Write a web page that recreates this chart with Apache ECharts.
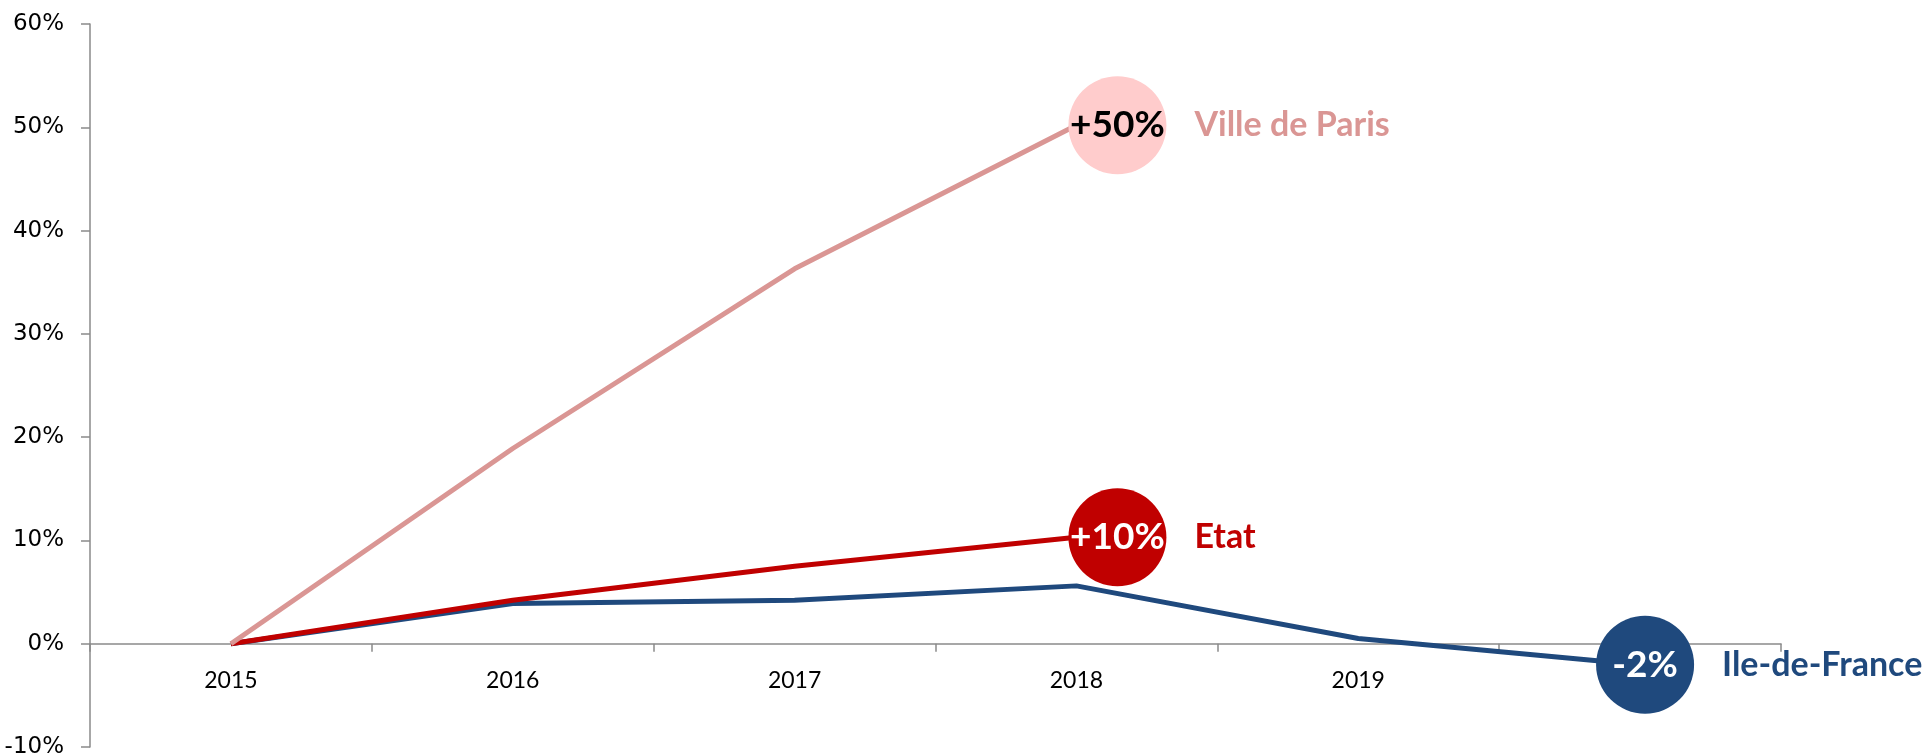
<!DOCTYPE html>
<html>
<head>
<meta charset="utf-8">
<script src="https://cdn.jsdelivr.net/npm/echarts@6/dist/echarts.min.js"></script>
<style>
  html, body { margin: 0; padding: 0; background: #fff; }
  #main { width: 1926px; height: 756px; }
</style>
</head>
<body>
<div id="main"></div>
<script>
// données (évolution depuis 2015, en %)
var years = ['2015', '2016', '2017', '2018', '2019', '2020'];
var idf = [0, 3.9, 4.2, 5.6, 0.5, -2.03];
var etat = [0, 4.2, 7.5, 10.3];
var paris = [0, 18.9, 36.3, 50.2];
var yTicks = [-10, 0, 10, 20, 30, 40, 50, 60];

var myChart = echarts.init(document.getElementById('main'));

function fmtPct(v) {
    var r = Math.round(v);
    return (r > 0 ? '+' : '') + r + '%';
}

// cercle + nom de la série, comme les étiquettes Excel
function marks(name, data, circleColor, textColor, nameColor, dx) {
    var last = data.length - 1;
    var v = data[last];
    return {
        symbol: 'circle',
        symbolSize: 98,
        animation: false,
        data: [
            {
                coord: [last, v],
                symbolOffset: [dx, 0],
                itemStyle: { color: circleColor },
                label: {
                    show: true, position: 'inside', formatter: fmtPct(v),
                    color: textColor, fontFamily: 'Lato', fontWeight: 'bold', fontSize: 37
                }
            },
            {
                coord: [last, v],
                symbolOffset: [dx, 0],
                itemStyle: { color: 'rgba(0,0,0,0)' },
                label: {
                    show: true, position: 'right', distance: 28, formatter: name,
                    color: nameColor, fontFamily: 'Lato', fontWeight: 'bold', fontSize: 34
                }
            }
        ]
    };
}

var axisGray = '#8a8a8a';

var option = {
    animation: false,
    grid: { left: 90, right: 145, top: 24, bottom: 9, outerBoundsMode: 'none', containLabel: false },
    xAxis: {
        type: 'category',
        data: years,
        boundaryGap: true,
        axisLine: { onZero: true, lineStyle: { color: axisGray, width: 1.5 } },
        axisTick: { show: true, length: 8, lineStyle: { color: axisGray, width: 1.5 } },
        // les libellés restent en bas de la grille : on les remonte sous l'axe 0
        axisLabel: { color: '#000', fontFamily: 'Lato', fontSize: 23, margin: -78 },
        splitLine: { show: false }
    },
    yAxis: {
        type: 'value',
        min: yTicks[0],
        max: yTicks[yTicks.length - 1],
        interval: 10,
        axisLine: { show: true, lineStyle: { color: axisGray, width: 1.5 } },
        axisTick: { show: true, length: 9, lineStyle: { color: axisGray, width: 1.5 } },
        axisLabel: {
            color: '#000', fontFamily: 'DejaVu Sans', fontSize: 23, margin: 26,
            formatter: function (v) { return Math.round(v) + '%'; }
        },
        splitLine: { show: false }
    },
    series: [
        {
            name: 'Ile-de-France',
            type: 'line',
            data: idf,
            symbol: 'none',
            lineStyle: { color: '#1f497d', width: 5 },
            markPoint: marks('Ile-de-France', idf, '#1f497d', '#fff', '#1f497d', 5)
        },
        {
            name: 'Etat',
            type: 'line',
            data: etat,
            symbol: 'none',
            lineStyle: { color: '#c00000', width: 5 },
            markPoint: marks('Etat', etat, '#c00000', '#fff', '#c00000', 41)
        },
        {
            name: 'Ville de Paris',
            type: 'line',
            data: paris,
            symbol: 'none',
            lineStyle: { color: '#da9694', width: 5 },
            markPoint: marks('Ville de Paris', paris, '#ffcccc', '#000', '#da9694', 41)
        }
    ]
};

myChart.setOption(option);
</script>
</body>
</html>
